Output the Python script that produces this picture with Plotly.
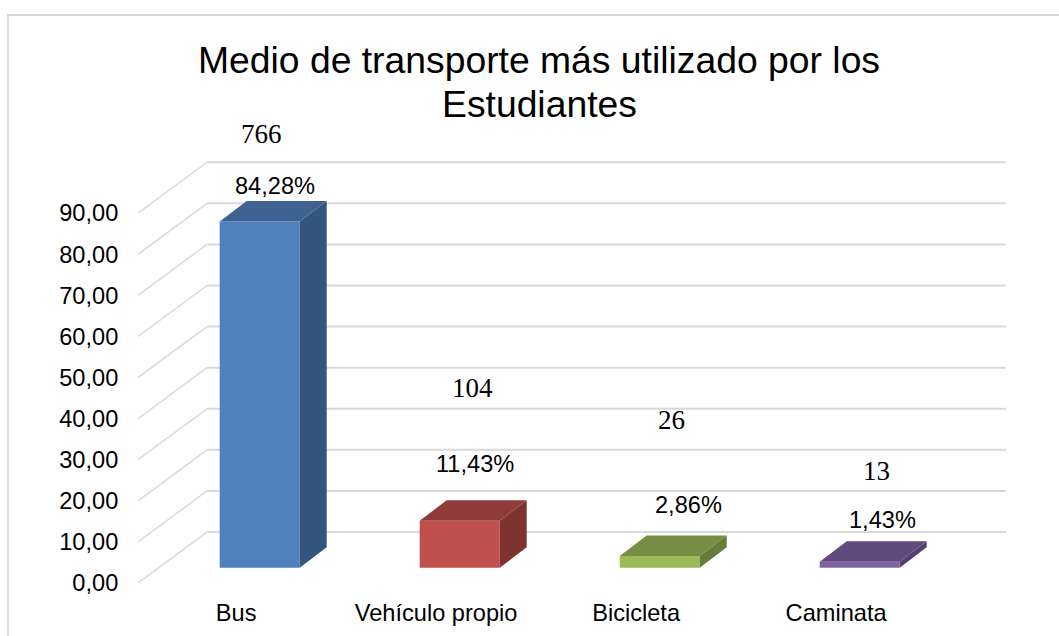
import plotly.graph_objects as go

# ---- data ----
categories = ["Bus", "Vehículo propio", "Bicicleta", "Caminata"]
percentages = [84.28, 11.43, 2.86, 1.43]
counts = [766, 104, 26, 13]
tick_values = [0, 10, 20, 30, 40, 50, 60, 70, 80, 90]
title_line_1 = "Medio de transporte más utilizado por los"
title_line_2 = "Estudiantes"

# ---- style ----
front_colors = ["#4F81BD", "#C0504D", "#9BBB59", "#8064A2"]
side_colors = ["#34557D", "#7E3331", "#667C3A", "#54406C"]
top_colors = ["#3E6393", "#8F3B39", "#778F45", "#614A7C"]
GRID = "#D9D9D9"
SANS = "Liberation Sans, Arial, sans-serif"
SERIF = "Liberation Serif, serif"

# ---- geometry of the pseudo-3D box, in axis units ----
X_MIN, X_MAX = -0.6085, 3.7315
Y_MAX = 102.7
BAR_W = 0.4
BAR_BASE = 3.72
BAR_DX, BAR_DY = 0.135, 4.99
WALL_DX, WALL_DY = 0.345, 12.4
LABEL_SHIFT = -0.118
pct_shift = [(15, 35), (15, 57), (29, 51), (23, 42)]
cnt_shift = [(2, 87), (13, 133), (12, 136), (17, 91)]

fig = go.Figure()

idx = list(range(len(categories)))

fig.add_trace(go.Bar(
    x=idx, y=percentages, base=BAR_BASE, width=BAR_W,
    marker=dict(color=front_colors, line=dict(width=0)),
    hoverinfo="skip", showlegend=False,
))

for i, v in enumerate(percentages):
    xl, xr = i - BAR_W / 2, i + BAR_W / 2
    y0, y1 = BAR_BASE, BAR_BASE + v
    # right side face
    fig.add_trace(go.Scatter(
        x=[xr, xr + BAR_DX, xr + BAR_DX, xr, xr],
        y=[y0, y0 + BAR_DY, y1 + BAR_DY, y1, y0],
        mode="lines", fill="toself", fillcolor=side_colors[i],
        line=dict(width=0), hoverinfo="skip", showlegend=False,
    ))
    # top face
    fig.add_trace(go.Scatter(
        x=[xl, xr, xr + BAR_DX, xl + BAR_DX, xl],
        y=[y1, y1, y1 + BAR_DY, y1 + BAR_DY, y1],
        mode="lines", fill="toself", fillcolor=top_colors[i],
        line=dict(width=0), hoverinfo="skip", showlegend=False,
    ))

shapes = []
for t in tick_values:
    shapes.append(dict(type="line", xref="x", yref="y", layer="below",
                       x0=X_MIN, y0=t, x1=X_MIN + WALL_DX, y1=t + WALL_DY,
                       line=dict(color=GRID, width=1.5)))
    shapes.append(dict(type="line", xref="x", yref="y", layer="below",
                       x0=X_MIN + WALL_DX, y0=t + WALL_DY, x1=X_MAX, y1=t + WALL_DY,
                       line=dict(color=GRID, width=2)))

# chart frame (runs off the right and bottom of the picture)
PW, PH = 868, 422
fx = -130 / PW
fy = 568 / PH
shapes.append(dict(type="path", xref="paper", yref="paper", layer="below",
                   path=f"M {fx} -0.3 L {fx} {fy} L 1.2 {fy}",
                   line=dict(color=GRID, width=2)))

annotations = [dict(
    x=539 / 1059, y=1 - 104 / 636, xref="container", yref="container",
    showarrow=False, xanchor="center", yanchor="middle",
    text=title_line_2, font=dict(family=SANS, size=37.3, color="#000000"),
)]
annotations = [dict(
    x=(539 - 138) / PW, y=(583 - 104) / PH, xref="paper", yref="paper",
    showarrow=False, xanchor="center", yanchor="middle",
    text=title_line_2, font=dict(family=SANS, size=37.3, color="#000000"),
)]
for i, v in enumerate(percentages):
    top = BAR_BASE + v
    annotations.append(dict(
        x=i, y=top, xref="x", yref="y", showarrow=False,
        xanchor="center", yanchor="middle",
        xshift=pct_shift[i][0], yshift=pct_shift[i][1],
        text=f"{v:.2f}".replace(".", ",") + "%",
        font=dict(family=SANS, size=23.6, color="#000000"),
    ))
    annotations.append(dict(
        x=i, y=top, xref="x", yref="y", showarrow=False,
        xanchor="center", yanchor="middle",
        xshift=cnt_shift[i][0], yshift=cnt_shift[i][1],
        text=str(counts[i]),
        font=dict(family=SERIF, size=27, color="#000000"),
    ))

fig.update_layout(
    width=1059, height=636,
    margin=dict(l=138, r=53, t=161, b=53, autoexpand=False),
    paper_bgcolor="white", plot_bgcolor="white",
    separators=",.",
    showlegend=False,
    title=dict(text=title_line_1, x=539 / 1059, xanchor="center",
               y=1 - 60 / 636, yanchor="middle",
               font=dict(family=SANS, size=37.3, color="#000000")),
    xaxis=dict(range=[X_MIN, X_MAX], showgrid=False, zeroline=False, showline=False,
               tickmode="array", tickvals=[i + LABEL_SHIFT for i in idx], ticktext=categories,
               ticks="outside", ticklen=9, tickcolor="rgba(0,0,0,0)",
               tickfont=dict(family=SANS, size=23.6, color="#000000")),
    yaxis=dict(range=[0, Y_MAX], showgrid=False, zeroline=False, showline=False,
               tickmode="array", tickvals=tick_values, tickformat=".2f",
               ticks="outside", ticklen=14, tickcolor="rgba(0,0,0,0)",
               tickfont=dict(family=SANS, size=23.6, color="#000000")),
    shapes=shapes, annotations=annotations,
)

fig.write_html("out.html", config={"displayModeBar": False},
               post_script="document.body.style.margin='0';")
